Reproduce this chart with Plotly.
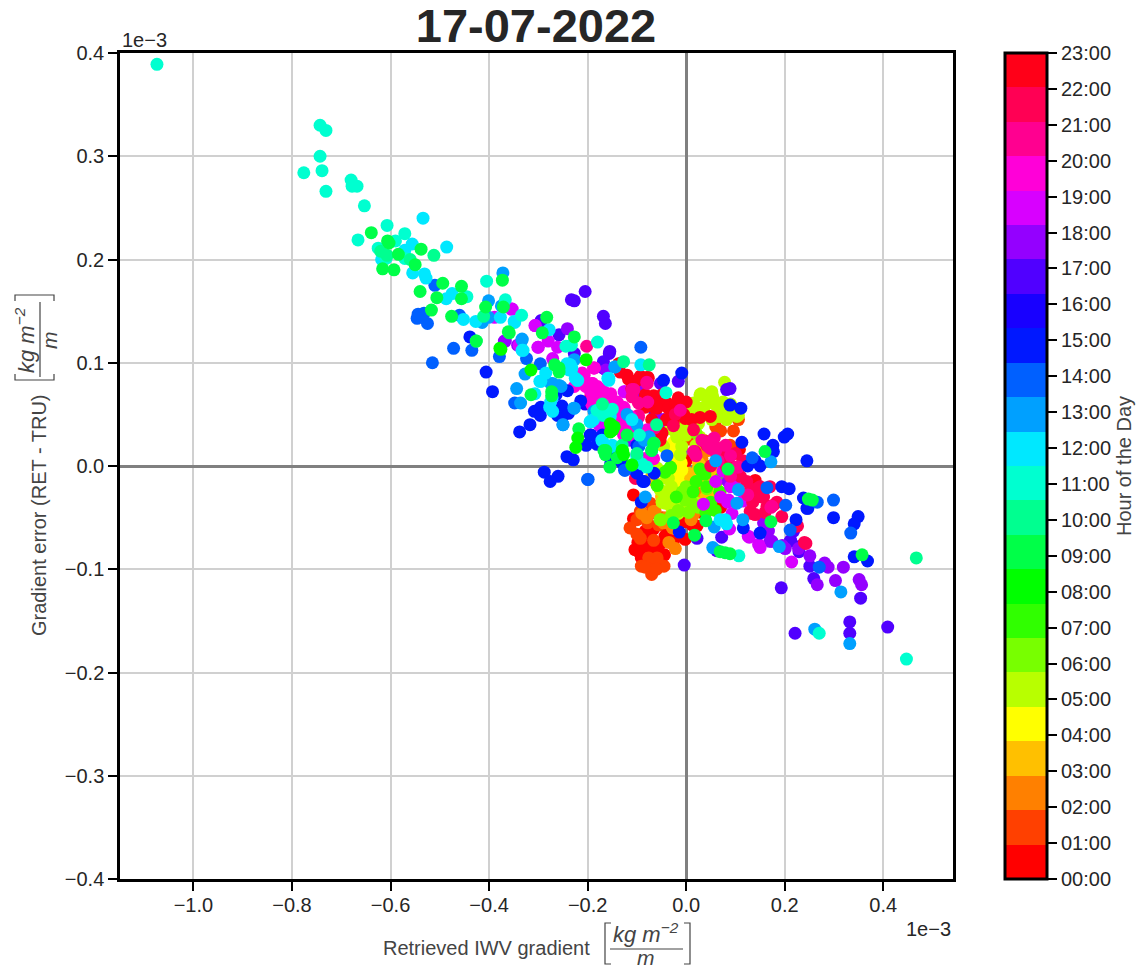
import plotly.graph_objects as go

TITLE = "17-07-2022"
X_LABEL = "Retrieved IWV gradient"
Y_LABEL = "Gradient error (RET - TRU)"
CBAR_LABEL = "Hour of the Day"
HOUR_LABELS = [f"{h:02d}:00" for h in range(24)]
X_TICKS = [-1.0, -0.8, -0.6, -0.4, -0.2, 0.0, 0.2, 0.4]
Y_TICKS = [-0.4, -0.3, -0.2, -0.1, 0.0, 0.1, 0.2, 0.3, 0.4]
HOUR_COLOURS = ["#ff0000", "#ff4000", "#ff8000", "#ffc000", "#ffff00", "#b8ff00", "#78ff00", "#30ff00",
                "#00ff00", "#00ff48", "#00ff90", "#00ffd0", "#00e8ff", "#00a0ff", "#0060ff", "#0018ff",
                "#1800ff", "#5000ff", "#9400ff", "#d800ff", "#ff00d8", "#ff0090", "#ff0054", "#ff0018"]

# (gradient, error) pairs in units of 1e-3, one list per hour of the day
h00 = [(-.107,-.028),(-.107,-.051),(-.076,-.047),(-.083,-.063),(-.104,-.081),(-.086,-.078),(-.091,-.089),(-.070,-.081),(-.059,-.081),(-.044,-.086),(-.039,-.062),(-.026,-.073),(-.032,-.072),(-.043,-.068),(-.002,-.054),(.022,-.058),(-.002,-.071),(.012,-.057),(.000,.005),(.018,-.017),(.069,-.010),(.039,-.046),(.066,-.036),(.108,.016),(.086,.000),(-.053,.028),(.025,-.020),(-.096,-.083),(-.080,-.073),(.035,.025),(.035,-.046),(.015,-.041),(.008,-.054),(-.012,-.055),(-.098,-.074),(-.075,-.067),(-.052,-.075),(-.066,-.061),(.070,-.040)]
h01 = [(-.114,-.060),(-.093,-.044),(-.073,-.036),(-.093,-.070),(-.091,-.097),(-.070,-.105),(-.053,-.096),(-.045,-.097),(-.066,-.072),(-.066,-.094),(-.076,-.089),(-.059,-.089),(-.056,-.057),(.106,.045),(.070,.034),(.096,.034),(.003,.026),(.089,.020),(.082,.006),(-.100,-.052),(-.048,-.050),(.005,.027),(.079,.007),(-.083,-.098),(-.060,-.100),(-.100,-.066),(-.078,-.055),(.060,.038)]
h02 = [(-.063,-.044),(-.022,-.080),(.045,.015),(.032,.007),(.015,-.047),(-.040,-.050),(.060,.000),(-.035,-.074),(.010,-.052),(.035,.015),(.028,.007),(.018,-.014),(.032,-.026),(.015,-.044),(.035,-.030),(-.066,-.044),(-.090,-.046),(-.046,-.055),(-.080,-.050),(-.028,-.060)]
h03 = [(.005,-.007),(.049,-.012),(-.066,-.014),(.030,.000),(-.010,-.030),(.020,-.010),(-.050,-.030),(.025,-.002),(.001,-.014),(.042,-.004),(.025,.003),(-.012,-.028),(-.070,-.010),(.060,-.018),(.040,-.030),(.050,-.030),(.030,-.015),(.060,-.005)]
h04 = [(-.026,.023),(-.039,.017),(-.019,.009),(-.022,-.010),(-.019,-.017),(-.010,.003),(-.030,.010),(-.022,.022),(-.029,.014),(-.019,.004),(-.016,-.009),(-.016,-.015),(-.022,-.014),(-.009,-.004)]
h05 = [(.078,.081),(.030,.070),(.052,.072),(.054,.067),(.015,.061),(.008,.056),(.036,.057),(.069,.056),(.079,.053),(.106,.049),(.062,.048),(.082,.045),(-.002,.036),(-.019,.028),(.028,.028),(-.059,-.002),(-.053,-.023),(-.019,-.036),(-.015,-.044),(-.049,-.035),(-.055,-.004),(.095,.052),(.058,.060),(.020,.040),(-.040,-.012),(-.030,-.040),(-.046,-.026),(-.026,-.030),(-.016,-.046),(-.005,-.038),(.018,-.035),(-.005,-.026),(-.043,-.036),(-.036,-.012),(-.012,.011),(-.046,.019),(-.036,.036),(-.005,.038),(-.022,.033),(.025,.041),(.052,.045),(.069,.048),(.035,.054),(.011,.059),(.066,.057),(.086,.051),(.103,.048),(.052,.070),(.028,.069),(.015,.054),(-.009,.019),(.045,.062),(.075,.062),(.090,.060),(.000,-.040),(-.030,-.020),(.020,.020),(.000,.030)]
h06 = [(.042,-.022),(.011,-.035),(-.002,-.033),(-.051,-.052),(-.016,-.044),(.069,-.026),(.020,.032),(-.008,-.025),(-.016,-.043),(-.053,-.052),(.025,-.040),(-.030,-.048),(.005,-.045),(.000,-.020),(.040,-.040)]
h07 = [(-.032,-.002),(-.043,-.006),(.032,-.005),(-.059,-.019),(.014,-.025),(.068,-.025),(.059,-.043),(.038,-.008),(-.032,-.001),(.042,-.020),(.028,-.003),(.070,-.012),(.050,-.035),(.020,-.015),(-.020,-.030),(.040,-.045)]
h08 = [(-.376,.113),(-.378,.114),(-.315,.093),(-.220,.027),(-.224,.018),(-.110,.001),(-.149,.035),(-.130,.015),(-.146,.038),(-.150,.035),(-.129,.015),(-.154,.041),(-.203,.103),(-.151,.036),(-.154,.033),(-.127,.011)]
h09 = [(-.639,.226),(-.606,.218),(-.603,.216),(-.538,.210),(-.584,.205),(-.616,.191),(-.593,.190),(-.550,.195),(-.494,.177),(-.540,.169),(-.456,.174),(-.506,.163),(-.456,.162),(-.373,.180),(-.517,.151),(-.476,.145),(-.407,.154),(-.371,.154),(-.426,.121),(-.359,.129),(-.361,.130),(-.283,.144),(-.292,.129),(-.227,.125),(-.267,.098),(-.258,.091),(-.315,.069),(-.273,.072),(-.218,.036),(-.163,.015),(-.167,.015),(-.164,.011),(-.155,-.001),(-.110,.001),(-.120,.030),(-.066,.022),(-.026,-.055),(.040,-.053),(.017,-.067),(.069,-.083),(.079,-.084),(.089,-.085),(.160,.014),(.172,-.054),(.248,-.032),(.256,-.033),(.357,-.086),(-.273,.068),(-.258,.095),(-.070,.015),(-.140,.008),(.085,-.003)]
h10 = [(-.512,.204),(-.607,.204),(-.411,.145),(-.127,.101),(-.075,.098),(-.065,.022),(.467,-.089),(-.426,.121),(-.620,.208),(-.560,.200),(-.100,.012),(-.170,.060),(-.060,.040),(-.130,.020)]
h11 = [(-1.074,.389),(-.743,.330),(-.731,.325),(-.743,.300),(-.739,.286),(-.776,.284),(-.731,.266),(-.680,.277),(-.678,.271),(-.668,.271),(-.653,.252),(-.607,.233),(-.666,.219),(-.571,.225),(-.590,.218),(-.625,.211),(-.609,.201),(-.571,.201),(-.445,.164),(-.405,.179),(-.367,.161),(-.334,.146),(-.244,.116),(-.233,.117),(-.180,.120),(-.181,.054),(-.163,.050),(-.080,-.001),(-.041,.071),(.107,-.087),(.270,-.162),(.447,-.187),(-.168,.049),(-.090,.002),(-.150,.055),(-.095,.030)]
h12 = [(-.534,.240),(-.556,.215),(-.486,.212),(-.571,.209),(-.618,.200),(-.555,.187),(-.531,.186),(-.528,.182),(-.475,.167),(-.487,.162),(-.452,.142),(-.427,.140),(-.377,.144),(-.348,.139),(-.331,.112),(-.349,.140),(-.333,.112),(-.278,.132),(-.237,.098),(-.233,.093),(-.220,.083),(-.159,.085),(-.295,.082),(-.307,.070),(-.275,.062),(-.271,.053),(-.193,.043),(-.157,.085),(-.092,.098),(-.150,.020),(-.170,.024),(-.171,.025),(-.151,.019),(-.100,.009),(-.235,.098),(-.221,.083),(.079,-.052),(-.242,.099),(-.232,.095),(-.225,.085),(-.157,.083),(-.195,.043),(-.188,.045),(-.154,.048),(-.238,.093),(-.285,.090),(-.297,.082),(-.272,.066),(-.277,.057),(.069,-.052),(.082,-.056),(-.110,.045)]
h13 = [(-.372,.187),(-.333,.122),(-.401,.160),(-.401,.144),(-.414,.139),(-.375,.155),(-.344,.075),(-.327,.089),(-.333,.123),(-.227,.103),(-.271,.080),(-.254,.077),(-.336,.061),(-.227,.056),(-.187,.053),(-.145,.096),(-.144,.096),(-.075,.028),(-.076,.028),(-.083,-.030),(-.228,.056),(-.250,.040),(.106,-.023),(.103,-.036),(.115,-.052),(.057,-.059),(.054,-.079),(.172,.004),(.189,-.078),(.314,-.122),(.261,-.158),(.332,-.172),(-.275,.080),(-.258,.078),(-.120,.050),(-.085,.025),(.060,.005),(-.100,.040),(-.070,.015)]
h14 = [(-.510,.175),(-.544,.147),(-.532,.148),(-.546,.143),(-.525,.138),(-.460,.146),(-.472,.114),(-.435,.112),(-.515,.100),(-.296,.099),(-.324,.104),(-.379,.106),(-.348,.061),(-.250,.040),(-.199,-.013),(-.200,-.013),(-.092,.115),(-.096,.019),(-.125,-.004),(-.124,-.004),(-.039,.010),(.134,.008),(.164,-.021),(.202,-.038),(.211,-.062),(.266,-.035),(.299,-.033),(.334,-.065),(.270,-.098),(-.100,.011)]
h15 = [(-.439,.125),(-.406,.091),(-.393,.072),(-.264,.069),(-.241,.073),(-.214,.063),(-.252,.058),(-.295,.057),(-.308,.053),(-.296,.049),(-.261,.049),(-.251,.048),(-.239,.051),(-.317,.040),(-.338,.033),(-.193,.030),(-.203,.020),(-.181,.021),(-.242,.009),(-.229,.006),(-.288,-.006),(-.260,-.010),(-.276,-.015),(-.153,.003),(-.129,.003),(-.102,-.005),(-.085,-.015),(-.065,-.007),(-.009,.090),(-.046,.083),(-.130,.003),(-.100,-.007),(-.088,-.015),(-.091,-.035),(-.014,-.064),(.089,.059),(.111,.056),(.113,.023),(.150,.000),(.125,.000),(.158,.031),(.176,.020),(.177,.014),(.199,.028),(.206,.031),(.245,.005),(.194,-.020),(.209,-.022),(.238,-.031),(.245,-.041),(.223,-.052),(.116,-.060),(.150,-.065),(.299,-.050),(.247,-.041),(.349,-.049),(.341,-.056),(.341,-.088),(.368,-.092),(-.195,.030),(-.144,.011),(.140,.005),(-.170,.030),(-.100,.020)]
h16 = [(-.147,.049),(-.205,.060)]
h17 = [(-.205,.169),(-.233,.161),(-.227,.160),(-.168,.145),(-.164,.138),(-.258,.127),(-.295,.140),(-.294,.141),(-.227,.109),(-.156,.109),(-.169,.095),(-.155,.111),(-.168,.101),(-.016,.082),(-.051,.080),(.082,.074),(.089,.075),(.072,-.069),(.062,-.082),(.022,-.070),(-.004,-.096),(-.063,.051),(-.052,.080),(.218,-.063),(.212,-.072),(.230,-.078),(.229,-.083),(.251,-.097),(.259,-.109),(.354,-.128),(.193,-.118),(.332,-.151),(.332,-.162),(.409,-.156),(.221,-.162),(.159,-.056),(.211,-.073)]
h18 = [(-.369,.121),(-.367,.121),(-.342,.117),(-.241,.133),(-.163,.093),(-.096,.069),(-.097,.072),(-.063,.046),(-.053,.043),(-.114,.025),(.096,-.009),(.167,-.063),(.174,-.073),(.195,-.077),(.201,-.080),(.251,-.087),(.281,-.094),(.288,-.098),(.319,-.098),(.266,-.115),(.303,-.111),(.351,-.110),(.356,-.115),(-.093,.080),(-.090,.069),(-.103,.077),(-.066,.045),(-.046,.045),(.157,-.055),(.164,-.064),(.170,-.073),(.228,-.080),(.125,-.032),(.085,-.015)]
h19 = [(-.389,.144),(-.353,.152),(-.306,.136),(-.339,.117),(-.301,.115),(-.355,.152),(-.300,.115),(-.307,.136),(-.280,.121),(-.261,.115),(-.271,.104),(-.174,.039),(-.175,.040),(-.176,.039),(-.126,.072),(-.124,.072),(.035,-.037),(.084,-.035),(.086,-.033),(.093,-.046),(.088,-.061),(.128,-.069),(.150,-.079),(.214,-.093),(.147,-.076),(.126,-.068),(.115,-.034),(.060,-.015),(.075,-.005),(.100,-.020),(.070,-.030),(.090,-.020)]
h20 = [(-.186,.095),(-.207,.088),(-.190,.080),(-.186,.074),(-.169,.072),(-.193,.062),(-.163,.058),(-.227,.077),(-.187,.095),(-.191,.080),(-.194,.072),(-.174,.074),(-.153,.070),(-.191,.059),(-.140,.062),(-.126,.056),(-.140,.048),(-.106,.038),(-.123,.035),(-.100,.032),(-.068,.007),(-.164,.058),(-.114,.036),(-.090,.033),(-.073,.007),(-.127,.057),(-.141,.048),(-.174,.072),(-.188,.095),(-.180,.077),(-.167,.072),(-.180,.065),(-.160,.065),(-.146,.057),(-.129,.048),(-.113,.048),(-.116,.038),(-.129,.038),(-.096,.035),(-.079,.035),(-.071,.009),(-.085,.007),(-.106,.030),(-.194,.062),(-.184,.072),(-.204,.077),(-.211,.090),(-.123,.048),(-.127,.036),(-.117,.033),(-.103,.036),(-.110,.043),(-.127,.030),(-.083,.007),(-.066,.007)]
h21 = [(-.080,.081),(-.078,.062),(-.097,.047),(-.064,.037),(-.110,.074),(-.106,.074),(-.079,.080),(.015,.014),(.057,.027),(.062,.017),(.106,-.001),(-.202,.116),(.045,.019),(.032,.025),(.055,.026),(.103,-.001),(.174,-.039),(.172,-.040),(-.110,.067),(-.097,.061),(-.097,.049),(-.012,.054),(.049,.017),(.059,.014),(.020,.010),(.080,.020),(.090,.010),(.125,-.028),(.065,.005),(.090,-.010)]
h22 = [(-.099,.048),(-.065,.038),(-.022,.050),(-.026,.039),(.015,.035),(.035,.024),(.096,-.001),(.069,.011),(-.194,.067),(-.103,-.012),(.123,-.015),(.143,-.026),(.157,-.030),(.130,-.044),(.140,-.047),(.194,-.049),(.184,-.035),(.223,-.058),(.240,-.074),(.226,-.058),(.243,-.075),(.133,-.046),(.164,-.039),(.153,-.030),(.143,-.028),(.018,.014),(.042,.020),(.076,.006),(.082,-.001),(.130,-.023),(.143,-.022),(.177,-.038),(.100,.012),(.115,.005),(.135,-.035),(.050,.000),(.075,.018),(.110,-.010),(.150,-.020),(.160,-.045),(.170,-.020)]
h23 = [(-.120,.088),(-.137,.099),(-.092,.086),(-.077,.085),(-.065,.067),(-.082,.059),(-.055,.028),(-.093,.087),(-.078,.086),(-.117,.084),(-.066,.068),(-.016,.066),(-.083,.057),(-.039,.061),(-.053,.061),(-.066,.057),(-.005,.050),(-.051,.030),(.028,.047),(.049,.048),(.140,-.014),(-.134,.099),(-.083,.069),(-.090,.062),(-.049,.069),(-.059,.056),(-.036,.056),(-.022,.059),(-.002,.046),(-.026,.043),(-.049,.032),(-.053,.025),(-.076,.059),(-.066,.064),(-.134,.091),(-.100,.083),(.011,.045),(-.110,.075),(-.040,.045),(.000,.062),(-.070,.045)]

HOURS = [h00,h01,h02,h03,h04,h05,h06,h07,h08,h09,h10,h11,h12,h13,h14,h15,h16,h17,h18,h19,h20,h21,h22,h23]
DRAW_ORDER = [0,1,2,3,4,5,6,7,16,17,18,19,23,22,21,20,15,14,13,12,11,10,9,8]

x_vals, y_vals, hour_vals = [], [], []
for hour in DRAW_ORDER:
    for a, b in HOURS[hour]:
        x_vals.append(a); y_vals.append(b); hour_vals.append(hour)

n = len(HOUR_COLOURS)
colorscale = []
for i, c in enumerate(HOUR_COLOURS):
    colorscale += [[i / n, c], [(i + 1) / n, c]]

W, H = 1142, 969
L, R, T, B = 120, 953, 53, 879
TXT = "#262626"
FONT = "Liberation Sans"
px = lambda v: (v - L) / (R - L)
py = lambda v: (B - v) / (B - T)

fig = go.Figure(go.Scatter(
    x=x_vals, y=y_vals, mode="markers", showlegend=False,
    marker=dict(size=13, color=hour_vals, colorscale=colorscale, cmin=0, cmax=23, line=dict(width=0),
                colorbar=dict(x=px(1005), xanchor="left", xpad=0, y=0.5, yanchor="middle", ypad=0, len=1,
                              thickness=42, thicknessmode="pixels", outlinewidth=3, outlinecolor="black",
                              tickmode="array", tickvals=list(range(24)), ticktext=HOUR_LABELS,
                              ticks="outside", ticklen=9, tickwidth=2, tickcolor="black",
                              tickfont=dict(size=20, color=TXT, family=FONT),
                              title=dict(text=CBAR_LABEL, side="right", font=dict(size=20, color="#444444", family=FONT))))))


def ann(text, x, y, size=20, angle=0, xanchor="center", color=TXT):
    return dict(text=text, xref="paper", yref="paper", x=px(x), y=py(y), xanchor=xanchor, yanchor="middle",
                showarrow=False, textangle=angle, font=dict(size=size, color=color, family=FONT))


def path(pts):
    return "M " + " L ".join(f"{px(a):.5f},{py(b):.5f}" for a, b in pts)


line = dict(color="#444444", width=1.2)
shapes = [
    dict(type="line", xref="paper", yref="paper", x0=px(610), x1=px(683), y0=py(949), y1=py(949), line=line),
    dict(type="path", xref="paper", yref="paper", path=path([(611, 923), (605, 923), (605, 964), (611, 964)]), line=line),
    dict(type="path", xref="paper", yref="paper", path=path([(684, 923), (690, 923), (690, 964), (684, 964)]), line=line),
    dict(type="line", xref="paper", yref="paper", x0=px(40), x1=px(40), y0=py(302), y1=py(377), line=line),
    dict(type="path", xref="paper", yref="paper", path=path([(15, 301), (15, 295), (54, 295), (54, 301)]), line=line),
    dict(type="path", xref="paper", yref="paper", path=path([(15, 374), (15, 380), (54, 380), (54, 374)]), line=line),
]
annotations = [
    ann("1e\u22123", 120, 40, xanchor="left"),
    ann("1e\u22123", 953, 929, xanchor="right"),
    ann(X_LABEL, 486, 948, color="#444444"),
    ann(Y_LABEL, 39, 515, angle=-90, color="#444444"),
    ann("<i>kg m<sup>\u22122</sup></i>", 646, 933, 22, color="#444444"),
    ann("<i>m</i>", 646, 957, 21, color="#444444"),
    ann("<i>kg m<sup>\u22122</sup></i>", 25, 340, 22, angle=-90, color="#444444"),
    ann("<i>m</i>", 50, 340, 21, angle=-90, color="#444444"),
]

fig.update_layout(
    width=W, height=H, autosize=False, paper_bgcolor="white", plot_bgcolor="white",
    margin=dict(l=L, r=W - R, t=T, b=H - B, pad=0, autoexpand=False),
    font=dict(family=FONT, color=TXT),
    title=dict(text=f"<b>{TITLE}</b>", x=536 / W, xanchor="center", y=1 - 26 / H, yanchor="middle",
               font=dict(size=47, color=TXT, family=FONT)),
    shapes=shapes, annotations=annotations,
    xaxis=dict(range=[-1.149, 0.5415], tickmode="array", tickvals=X_TICKS, tickformat=".1f",
               showline=True, mirror=True, linecolor="black", linewidth=2.5,
               ticks="outside", ticklen=9, tickwidth=2, tickcolor="black", tickfont=dict(size=20, color=TXT),
               ticklabelstandoff=-3,
               showgrid=True, gridcolor="#d0d0d0", gridwidth=1.8,
               zeroline=True, zerolinecolor="#808080", zerolinewidth=3),
    yaxis=dict(range=[-0.4, 0.4], tickmode="array", tickvals=Y_TICKS, tickformat=".1f",
               showline=True, mirror=True, linecolor="black", linewidth=2.5,
               ticks="outside", ticklen=9, tickwidth=2, tickcolor="black", tickfont=dict(size=20, color=TXT),
               showgrid=True, gridcolor="#d0d0d0", gridwidth=1.8,
               zeroline=True, zerolinecolor="#808080", zerolinewidth=3),
)
fig.write_html("out.html", config={"displayModeBar": False},
               post_script="document.body.style.margin='0';document.documentElement.style.overflow='hidden';")
